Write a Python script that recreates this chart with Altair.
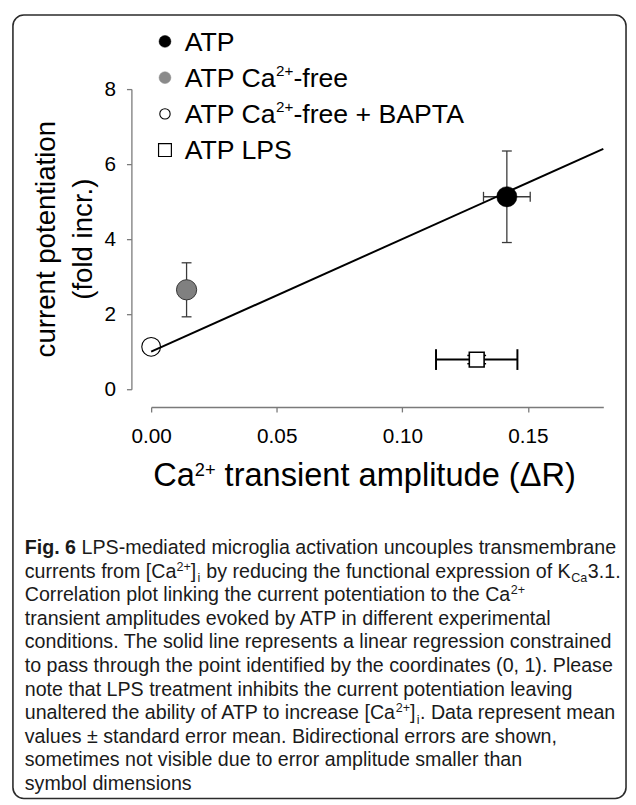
import altair as alt
import numpy as np
import pandas as pd

# ---------------- data ----------------
conditions = ["ATP", "ATP Ca2+-free", "ATP Ca2+-free + BAPTA", "ATP LPS"]
ca_amplitude = [0.1416, 0.0141, 0.0, 0.1296]          # Ca2+ transient amplitude (dR)
ca_amplitude_sem = [0.0093, 0.0010, 0.0, 0.0162]
potentiation = [5.13, 2.65, 1.13, 0.79]               # current potentiation (fold incr.)
potentiation_sem = [1.22, 0.72, 0.08, 0.11]
x_tick_values = [0.0, 0.05, 0.10, 0.15]
y_tick_values = [0, 2, 4, 6, 8]
x_domain = [0.0, 0.18]
y_domain = [0, 8]
fit_point = [0.0, 1.0]                                 # regression constrained through (0, 1)

df = pd.DataFrame({
    "cond": conditions,
    "x": ca_amplitude,
    "xerr": ca_amplitude_sem,
    "y": potentiation,
    "yerr": potentiation_sem,
})
df["xlo"] = df["x"] - df["xerr"]
df["xhi"] = df["x"] + df["xerr"]
df["ylo"] = df["y"] - df["yerr"]
df["yhi"] = df["y"] + df["yerr"]

reg = df[df["cond"] != "ATP LPS"]
x0, y0 = fit_point
slope = float(((reg["x"] - x0) * (reg["y"] - y0)).sum() / ((reg["x"] - x0) ** 2).sum())
fit_df = pd.DataFrame({"x": x_domain, "y": [y0 + slope * (v - x0) for v in x_domain]})

# ---------------- layout ----------------
FONT = "Liberation Sans"
OX, OY = 153, 85          # page position of the plot origin
W, H = 458, 304
one = pd.DataFrame({"_": [0]})

AW = {' ': 278, '!': 278, '(': 333, ')': 333, '+': 584, ',': 278, '-': 333, '.': 278,
      '0': 556, '1': 556, '2': 556, '3': 556, '4': 556, '5': 556, '6': 556, '7': 556, '8': 556, '9': 556,
      ':': 278, 'A': 667, 'B': 667, 'C': 722, 'D': 722, 'E': 667, 'F': 611, 'G': 778, 'H': 722,
      'I': 278, 'J': 500, 'K': 667, 'L': 556, 'M': 833, 'N': 722, 'O': 778, 'P': 667, 'Q': 778,
      'R': 722, 'S': 667, 'T': 611, 'U': 722, 'V': 667, 'W': 944, 'X': 667, 'Y': 667, 'Z': 611,
      '[': 278, ']': 278, 'a': 556, 'b': 556, 'c': 500, 'd': 556, 'e': 556, 'f': 278, 'g': 556,
      'h': 556, 'i': 222, 'j': 222, 'k': 500, 'l': 222, 'm': 833, 'n': 556, 'o': 556, 'p': 556,
      'q': 556, 'r': 333, 's': 500, 't': 278, 'u': 556, 'v': 500, 'w': 722, 'x': 500, 'y': 500,
      'z': 500, '±': 584, 'Δ': 668}
BW = dict(AW)
BW.update({'F': 611, 'i': 278, 'g': 611, '.': 278, ' ': 278, '6': 556})
KERN = {("A", "T"): -74, (" ", "A"): -55, ("T", "a"): -111, ("T", "o"): -111, ("T", "e"): -111,
        ("T", "r"): -37, ("y", "."): -111, ("r", "."): -55, ("P", "A"): -74, ("L", "T"): -74}


def tw(s, size, bold=False):
    table = BW if bold else AW
    w = sum(table.get(c, 556) for c in s)
    w += sum(KERN.get((a, b), 0) for a, b in zip(s, s[1:]))
    return w * size / 1000.0


def text_layer(s, xp, yp, size, weight="normal", angle=0, align="left", color="black"):
    return alt.Chart(one).mark_text(
        text=s, font=FONT, fontSize=size, fontWeight=weight, angle=angle,
        align=align, baseline="alphabetic", color=color
    ).encode(x=alt.value(xp - OX), y=alt.value(yp - OY))


def rich(segs, xstart, base, size, sup_scale=0.62, sup_rise=0.38, sub_drop=0.2, color="black"):
    out = []
    x = xstart
    for s, style in segs:
        bold = style == "bold"
        if style == "sup":
            fs, yb = size * sup_scale, base - sup_rise * size
        elif style == "sub":
            fs, yb = size * sup_scale, base + sub_drop * size
            x += 1.2 if s == "i" else 0.3
        else:
            fs, yb = size, base
        lead = len(s) - len(s.lstrip(" "))
        x += lead * 278 * fs / 1000.0
        s2 = s.lstrip(" ")
        out.append(text_layer(s2, x, yb, fs, weight="bold" if bold else "normal", color=color))
        x += tw(s2, fs, bold)
        if style == "sub":
            x += 0.5
    return out


xs = alt.Scale(domain=x_domain, nice=False, zero=False)
ys = alt.Scale(domain=y_domain, nice=False, zero=False)
AXC = "#7a7a7a"
x_axis = alt.Axis(values=x_tick_values, format=".2f", offset=18, title=None, grid=False,
                  domainColor=AXC, domainWidth=1.3, tickColor=AXC, tickWidth=1.3, tickSize=5,
                  labelFont=FONT, labelFontSize=21, labelColor="black", labelPadding=14,
                  labelFlush=False, labelOverlap=False, zindex=1)
y_axis = alt.Axis(values=y_tick_values, format="d", offset=20, title=None, grid=False,
                  domainColor=AXC, domainWidth=1.3, tickColor=AXC, tickWidth=1.3, tickSize=5,
                  labelFont=FONT, labelFontSize=21, labelColor="black", labelPadding=11,
                  labelFlush=False, labelOverlap=False, zindex=1)


def X(f):
    return alt.X(f, type="quantitative", scale=xs, axis=x_axis)


def Y(f):
    return alt.Y(f, type="quantitative", scale=ys, axis=y_axis)


base = alt.Chart(df)
thin = ["ATP", "ATP Ca2+-free"]
thin_sel = alt.FieldOneOfPredicate(field="cond", oneOf=thin)
lps_sel = alt.FieldEqualPredicate(field="cond", equal="ATP LPS")
atp_sel = alt.FieldEqualPredicate(field="cond", equal="ATP")

layers = []
# frame
layers.append(alt.Chart(one).mark_rect(fill="white", fillOpacity=0, stroke="#2b2b2b", strokeWidth=1.6,
                                        cornerRadius=11).encode(
    x=alt.value(13 - OX), x2=alt.value(634 - OX), y=alt.value(10 - OY), y2=alt.value(803.5 - OY)))

EC = "#3a3a3a"
# thin error bars (ATP, Ca-free)
layers.append(base.transform_filter(thin_sel).mark_rule(color=EC, strokeWidth=1.3).encode(
    x=X("x"), y=Y("ylo"), y2="yhi"))
layers.append(base.transform_filter(thin_sel).mark_tick(orient="horizontal", size=10, thickness=1.3,
                                                        color=EC, opacity=1).encode(x=X("x"), y=Y("ylo")))
layers.append(base.transform_filter(thin_sel).mark_tick(orient="horizontal", size=10, thickness=1.3,
                                                        color=EC, opacity=1).encode(x=X("x"), y=Y("yhi")))
layers.append(base.transform_filter(atp_sel).mark_rule(color=EC, strokeWidth=1.3).encode(
    x=X("xlo"), x2="xhi", y=Y("y")))
layers.append(base.transform_filter(atp_sel).mark_tick(orient="vertical", size=10, thickness=1.3,
                                                       color=EC, opacity=1).encode(x=X("xlo"), y=Y("y")))
layers.append(base.transform_filter(atp_sel).mark_tick(orient="vertical", size=10, thickness=1.3,
                                                       color=EC, opacity=1).encode(x=X("xhi"), y=Y("y")))
# LPS error bars (bold)
layers.append(base.transform_filter(lps_sel).mark_rule(color="black", strokeWidth=2).encode(
    x=X("xlo"), x2="xhi", y=Y("y")))
layers.append(base.transform_filter(lps_sel).mark_tick(orient="vertical", size=21, thickness=2,
                                                       color="black", opacity=1).encode(x=X("xlo"), y=Y("y")))
layers.append(base.transform_filter(lps_sel).mark_tick(orient="vertical", size=21, thickness=2,
                                                       color="black", opacity=1).encode(x=X("xhi"), y=Y("y")))
layers.append(base.transform_filter(lps_sel).mark_tick(orient="horizontal", size=19, thickness=1.5,
                                                       color="black", opacity=1).encode(x=X("x"), y=Y("ylo")))
layers.append(base.transform_filter(lps_sel).mark_tick(orient="horizontal", size=19, thickness=1.5,
                                                       color="black", opacity=1).encode(x=X("x"), y=Y("yhi")))
# BAPTA open circle
layers.append(base.transform_filter(alt.FieldEqualPredicate(field="cond", equal="ATP Ca2+-free + BAPTA"))
              .mark_point(shape="circle", size=361, fill="white", stroke="black", strokeWidth=1.1,
                          opacity=1, fillOpacity=1).encode(x=X("x"), y=Y("y")))
# regression line
layers.append(alt.Chart(fit_df).mark_line(color="black", strokeWidth=2).encode(x=X("x"), y=Y("y")))
# filled markers
layers.append(base.transform_filter(atp_sel).mark_point(shape="circle", size=420, fill="black",
                                                        stroke="black", strokeWidth=0.5, opacity=1,
                                                        fillOpacity=1).encode(x=X("x"), y=Y("y")))
layers.append(base.transform_filter(alt.FieldEqualPredicate(field="cond", equal="ATP Ca2+-free"))
              .mark_point(shape="circle", size=420, fill="#808080", stroke="#333333", strokeWidth=1,
                          opacity=1, fillOpacity=1).encode(x=X("x"), y=Y("y")))
layers.append(base.transform_filter(lps_sel).mark_point(shape="square", size=225, fill="white",
                                                        stroke="black", strokeWidth=1.6, opacity=1,
                                                        fillOpacity=1).encode(x=X("x"), y=Y("y")))

# ---------------- legend ----------------
LX, LTX = 167, 187
rows = [36.7, 73.4, 110.1, 146.8]
LFS = 27
leg_marks = [
    dict(shape="circle", size=144, fill="black", stroke="black", strokeWidth=0.5),
    dict(shape="circle", size=144, fill="#8a8a8a", stroke="#8a8a8a", strokeWidth=0.5),
    dict(shape="circle", size=110, fill="white", stroke="black", strokeWidth=1.1),
    dict(shape="square", size=169, fill="white", stroke="black", strokeWidth=1.2),
]
for ry, m in zip(rows, leg_marks):
    layers.append(alt.Chart(one).mark_point(opacity=1, fillOpacity=1, **m).encode(
        x=alt.value(LX - OX), y=alt.value(ry - OY)))
leg_texts = [
    [("ATP", "reg")],
    [("ATP Ca", "reg"), ("2+", "sup"), ("-free", "reg")],
    [("ATP Ca", "reg"), ("2+", "sup"), ("-free + BAPTA", "reg")],
    [("ATP LPS", "reg")],
]
for ry, segs in zip(rows, leg_texts):
    layers += rich(segs, LTX, ry + 9.4, LFS, sup_scale=0.57, sup_rise=0.42)

# ---------------- axis titles ----------------
layers += rich([("Ca", "reg"), ("2+", "sup"), (" transient amplitude (ΔR)", "reg")], 155, 487, 33,
               sup_scale=0.56, sup_rise=0.32)
layers.append(text_layer("current potentiation", 56, OY + H / 2, 28, angle=270, align="center"))
layers.append(text_layer("(fold incr.)", 93, OY + H / 2, 28, angle=270, align="center"))

# ---------------- caption ----------------
CFS = 19.9
cap_lines = [
    [("Fig. 6", "bold"), (" LPS-mediated microglia activation uncouples transmembrane", "reg")],
    [("currents from [Ca", "reg"), ("2+", "sup"), ("]", "reg"), ("i", "sub"),
     (" by reducing the functional expression of K", "reg"), ("Ca", "sub"), ("3.1.", "reg")],
    [("Correlation plot linking the current potentiation to the Ca", "reg"), ("2+", "sup")],
    [("transient amplitudes evoked by ATP in different experimental", "reg")],
    [("conditions. The solid line represents a linear regression constrained", "reg")],
    [("to pass through the point identified by the coordinates (0, 1). Please", "reg")],
    [("note that LPS treatment inhibits the current potentiation leaving", "reg")],
    [("unaltered the ability of ATP to increase [Ca", "reg"), ("2+", "sup"), ("]", "reg"), ("i", "sub"),
     (". Data represent mean", "reg")],
    [("values ± standard error mean. Bidirectional errors are shown,", "reg")],
    [("sometimes not visible due to error amplitude smaller than", "reg")],
    [("symbol dimensions", "reg")],
]
for k, segs in enumerate(cap_lines):
    layers += rich(segs, 25, 556 + 23.9 * k, CFS, sup_scale=0.64, sup_rise=0.36, sub_drop=0.22,
                   color="#1a1a1a")

chart = alt.layer(*layers).properties(
    width=W, height=H,
    autosize=alt.AutoSizeParams(type="none"),
    padding={"left": OX - 8, "top": OY - 8, "right": 628 - (OX - 8) - W, "bottom": 797 - (OY - 8) - H},
).configure_view(stroke=None)

chart.save("out.html", embed_options={"renderer": "svg", "actions": False})
